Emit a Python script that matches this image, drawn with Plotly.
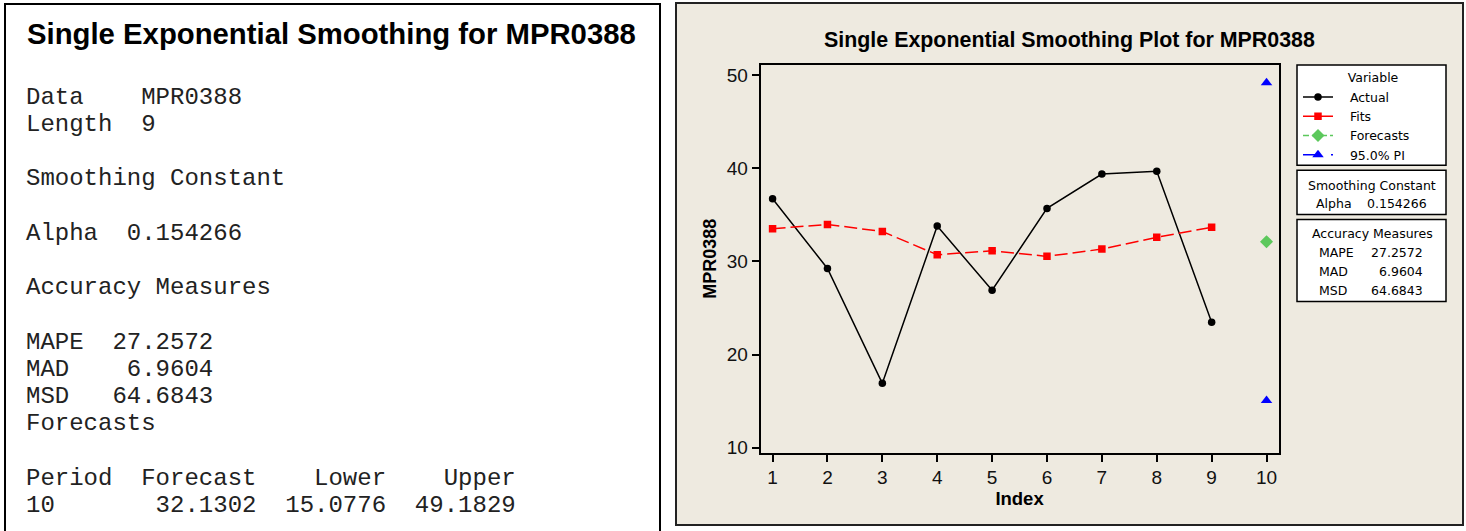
import plotly.graph_objects as go

# ---------------- data ----------------
series_name = "MPR0388"
index = [1, 2, 3, 4, 5, 6, 7, 8, 9]
actual = [36.74, 29.25, 16.92, 33.80, 26.92, 35.70, 39.39, 39.68, 23.48]
fits = [33.51, 33.98, 33.22, 30.72, 31.15, 30.55, 31.33, 32.60, 33.67]
forecast_period = [10]
forecast = [32.1302]
pi_lower = [15.0776]
pi_upper = [49.1829]
alpha = 0.154266
accuracy_names = ["MAPE", "MAD", "MSD"]
accuracy_values = [27.2572, 6.9604, 64.6843]
x_ticks = [1, 2, 3, 4, 5, 6, 7, 8, 9, 10]
y_ticks = [10, 20, 30, 40, 50]

W, H = 1466, 531
K = 531 / 524  # vertical correction measured on the rendered page


def px(x):
    return x / W


def py(y):
    return 1 - (y * K) / H


fig = go.Figure()

# ---------------- traces ----------------
sp = "\u00a0\u00a0\u00a0"
fig.add_trace(go.Scatter(
    x=index, y=actual, name=sp + "Actual", mode="lines+markers",
    line=dict(color="black", width=1.5),
    marker=dict(symbol="circle", size=7.5, color="black")))
fig.add_trace(go.Scatter(
    x=index, y=fits, name=sp + "Fits", mode="lines+markers",
    line=dict(color="#FF0000", width=1.5, dash="13px,5px"),
    marker=dict(symbol="square", size=7.5, color="#FF0000")))
fig.add_trace(go.Scatter(
    x=forecast_period, y=forecast, name=sp + "Forecasts", mode="lines+markers",
    line=dict(color="#5CC85C", width=1.5, dash="6px,3px"),
    marker=dict(symbol="diamond", size=10, color="#5CC85C")))
fig.add_trace(go.Scatter(
    x=[forecast_period[0], None, forecast_period[0]],
    y=[pi_upper[0], None, pi_lower[0]],
    name=sp + "95.0% PI", mode="lines+markers", connectgaps=False,
    line=dict(color="#0000FF", width=1.5, dash="13px,15px,7px"),
    marker=dict(symbol="triangle-up", size=10, color="#0000FF")))

shapes = []
annotations = []

# ---------------- left text panel ----------------
shapes.append(dict(type="rect", xref="paper", yref="paper",
                   x0=px(5), x1=px(660), y0=py(4), y1=py(560),
                   line=dict(color="black", width=2), fillcolor="white", layer="below"))
annotations.append(dict(
    text="<b>Single Exponential Smoothing for %s</b>" % series_name,
    xref="paper", yref="paper", x=px(25), y=py(33), xanchor="left", yanchor="middle",
    showarrow=False, font=dict(family="Liberation Sans", size=29.3, color="black")))

mono_lines = [
    f"{'Data':<8}{series_name}",
    f"{'Length':<8}{len(actual)}",
    "",
    "Smoothing Constant",
    "",
    f"{'Alpha':<7}{alpha:.6f}",
    "",
    "Accuracy Measures",
    "",
]
for n, v in zip(accuracy_names, accuracy_values):
    mono_lines.append(f"{n:<6}{v:7.4f}")
mono_lines += [
    "Forecasts",
    "",
    f"{'Period':<8}{'Forecast':>8}{'Lower':>9}{'Upper':>9}",
    f"{forecast_period[0]:<2d}{forecast[0]:>14.4f}{pi_lower[0]:>9.4f}{pi_upper[0]:>9.4f}",
]
for i, line in enumerate(mono_lines):
    if not line:
        continue
    annotations.append(dict(
        text=line.replace(" ", "\u00a0"), xref="paper", yref="paper",
        x=px(24), y=py(97 + 27.15 * i), xanchor="left", yanchor="middle",
        showarrow=False, font=dict(family="Liberation Mono", size=24, color="#222")))

# ---------------- right chart panel ----------------
shapes.append(dict(type="rect", xref="paper", yref="paper",
                   x0=px(676), x1=px(1463), y0=py(3), y1=py(524),
                   line=dict(color="#222", width=2), fillcolor="#EEEAE0", layer="below"))
annotations.append(dict(
    text="<b>Single Exponential Smoothing Plot for %s</b>" % series_name,
    xref="paper", yref="paper", x=px(1069), y=py(40), xanchor="center", yanchor="middle",
    showarrow=False, font=dict(family="Liberation Sans", size=21.4, color="black")))

# legend frame (legend itself is drawn transparent on top)
shapes.append(dict(type="rect", xref="paper", yref="paper",
                   x0=px(1297), x1=px(1446), y0=py(65), y1=py(165),
                   line=dict(color="black", width=1.5), fillcolor="white"))

# Smoothing constant box
shapes.append(dict(type="rect", xref="paper", yref="paper",
                   x0=px(1297), x1=px(1446), y0=py(170), y1=py(214),
                   line=dict(color="black", width=1.5), fillcolor="white"))
box_font = dict(family="DejaVu Sans", size=12.5, color="black")
annotations.append(dict(text="Smoothing Constant", xref="paper", yref="paper",
                        x=px(1372), y=py(185), xanchor="center", yanchor="middle",
                        showarrow=False, font=box_font))
annotations.append(dict(text="Alpha", xref="paper", yref="paper",
                        x=px(1314), y=py(203), xanchor="left", yanchor="middle",
                        showarrow=False, font=box_font))
annotations.append(dict(text=f"{alpha:.6f}", xref="paper", yref="paper",
                        x=px(1429), y=py(203), xanchor="right", yanchor="middle",
                        showarrow=False, font=box_font))

# Accuracy measures box
shapes.append(dict(type="rect", xref="paper", yref="paper",
                   x0=px(1297), x1=px(1446), y0=py(219), y1=py(301),
                   line=dict(color="black", width=1.5), fillcolor="white"))
annotations.append(dict(text="Accuracy Measures", xref="paper", yref="paper",
                        x=px(1372), y=py(233), xanchor="center", yanchor="middle",
                        showarrow=False, font=box_font))
for k, (n, v) in enumerate(zip(accuracy_names, accuracy_values)):
    yy = 252 + 18.8 * k
    annotations.append(dict(text=n, xref="paper", yref="paper",
                            x=px(1317), y=py(yy), xanchor="left", yanchor="middle",
                            showarrow=False, font=box_font))
    annotations.append(dict(text=f"{v:.4f}", xref="paper", yref="paper",
                            x=px(1425), y=py(yy), xanchor="right", yanchor="middle",
                            showarrow=False, font=box_font))

tick_font = dict(family="Liberation Sans Narrow, Arial Narrow, Liberation Sans",
                 size=19, color="#111")
pad = "\u00a0" * 12
fig.update_layout(
    width=W, height=H, autosize=False,
    margin=dict(l=0, r=0, t=0, b=0),
    paper_bgcolor="white",
    plot_bgcolor="white",
    showlegend=True,
    shapes=shapes,
    annotations=annotations,
    legend=dict(
        x=px(1298), y=py(66), xanchor="left", yanchor="top",
        bgcolor="rgba(0,0,0,0)", borderwidth=0,
        font=box_font, traceorder="normal", tracegroupgap=0,
        title=dict(text=pad + "Variable" + pad, side="top center", font=box_font),
    ),
    xaxis=dict(
        domain=[px(760.5), px(1278.6)], range=[0.78, 10.22],
        tickmode="array", tickvals=x_ticks,
        showgrid=False, zeroline=False,
        showline=True, mirror=True, linecolor="black", linewidth=1.5,
        ticks="outside", ticklen=7, tickwidth=1.5, tickcolor="black",
        tickfont=tick_font,
        title=dict(text="<b>Index</b>", standoff=0,
                   font=dict(family="Liberation Sans", size=18.5, color="black")),
    ),
    yaxis=dict(
        domain=[py(452), py(64.7)], range=[9.46, 51.11],
        tickmode="array", tickvals=y_ticks,
        showgrid=False, zeroline=False,
        showline=True, mirror=True, linecolor="black", linewidth=1.5,
        ticks="outside", ticklen=7, tickwidth=1.5, tickcolor="black",
        tickfont=tick_font,
        title=dict(text="<b>%s</b>" % series_name, standoff=5,
                   font=dict(family="Liberation Sans", size=18, color="black")),
    ),
)

fig.write_html(
    "out.html",
    config={"displayModeBar": False, "responsive": False},
    default_width="1466px", default_height="531px",
    post_script="document.body.style.margin='0';document.body.style.overflow='hidden';",
)
